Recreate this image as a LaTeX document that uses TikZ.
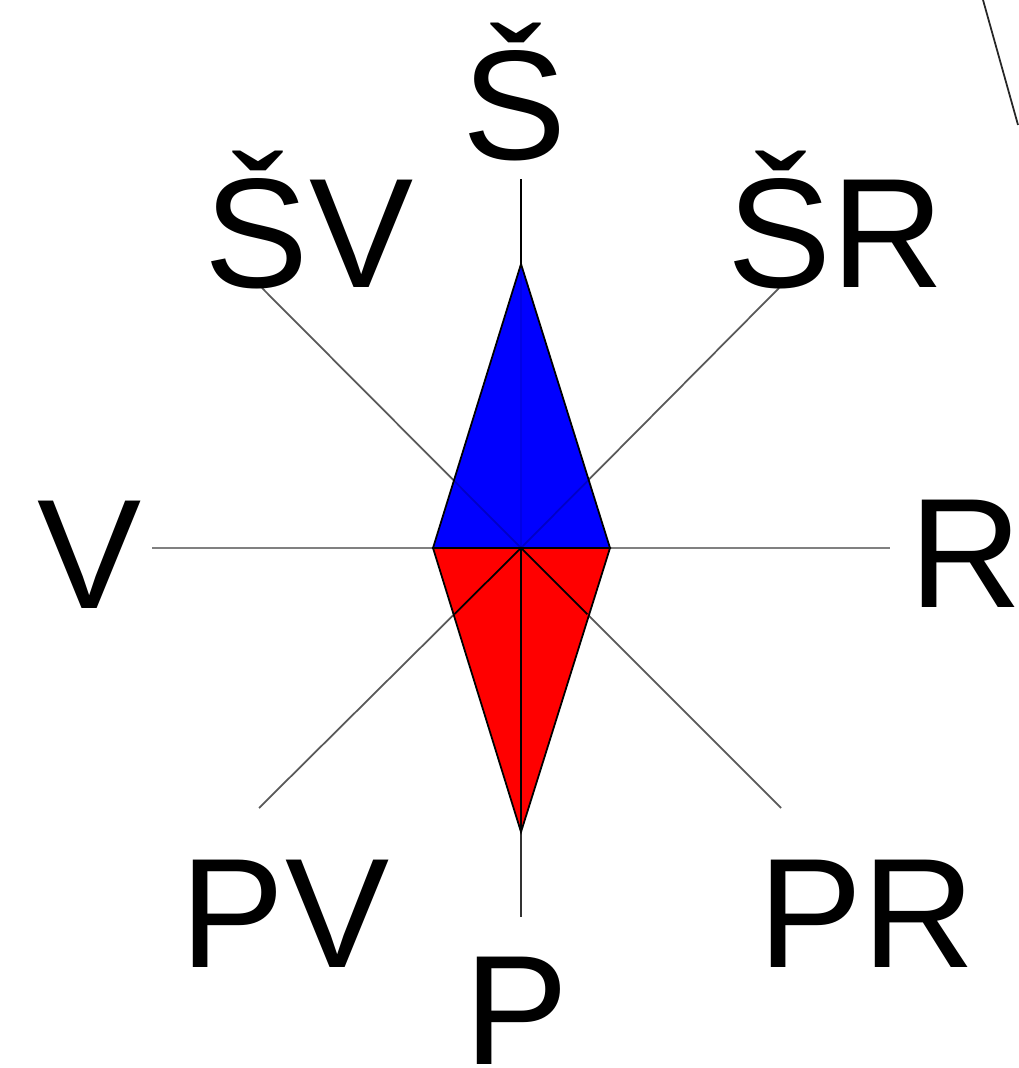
\documentclass[tikz,border=0pt]{standalone}
\usepackage{fontspec}
\setmainfont{Liberation Sans}
\usetikzlibrary{calc,positioning}
\tikzset{
  smer/.style={font=\fontsize{44.4}{50}\selectfont,anchor=base,inner sep=0pt},
  paprsek/.style={line width=0.5pt,black!65},
  hrot/.style={draw=black,line width=0.5pt,line join=miter}
}
\begin{document}
\begin{tikzpicture}[x=0.01cm,y=-0.01cm]
  \useasboundingbox (0,0) rectangle (1018,1068);
  \coordinate (stred) at (521,548);
  \coordinate (sever) at (521,264);
  \coordinate (jih) at (521,832);
  \coordinate (zapad) at (433,548);
  \coordinate (vychod) at (610,548);
  % konce paprsku
  \foreach \jm/\xx/\yy/\barva in
      {s/521/179/black, p/521/917/black!80, v/152/548/black!50, r/890/548/black!50,
       sv/262/288/black!65, sr/779/288/black!65, pv/259/808/black!65, pr/781/808/black!65}{
    \coordinate (k\jm) at (\xx,\yy);
    \draw[paprsek,draw=\barva] (stred) -- (k\jm);
  }
  \filldraw[hrot,fill=blue] (zapad) -- (sever) -- (vychod) -- cycle;
  \filldraw[hrot,fill=red] (zapad) -- (jih) -- (vychod) -- cycle;
  % paprsky pres strelku
  \draw[paprsek,draw=black,opacity=0.1] (stred) -- (sever);
  \foreach \aa/\bb in {stred/zapad,stred/vychod}
    \draw[paprsek,draw=black] (\aa) -- (\bb);
  \draw[paprsek,draw=black,opacity=0.22] (stred) -- ($(stred)!0.26!(ksv)$);
  \draw[paprsek,draw=black,opacity=0.22] (stred) -- ($(stred)!0.26!(ksr)$);
  \draw[paprsek,draw=black] (stred) -- (jih);
  \draw[paprsek,draw=black] (stred) -- ($(stred)!0.255!(kpv)$);
  \draw[paprsek,draw=black] (stred) -- ($(stred)!0.255!(kpr)$);
  % popisky
  \node[smer] (s) at (515,160) {Š};
  \node[smer] (sv) at (309,288) {ŠV};
  \node[smer] (sr) at (836,288) {ŠR};
  \node[smer] (v) at (90,608) {V};
  \node[smer] (r) at (966,607) {R};
  \node[smer] (pv) at (285,967) {PV};
  \node[smer] (pr) at (867,967) {PR};
  \node[smer] (p) at (517,1064) {P};
  \coordinate (ca) at (983,0);
  \coordinate (cb) at (1018,125);
  \draw[line width=0.5pt,black!85] (ca) -- (cb);
\end{tikzpicture}
\end{document}
